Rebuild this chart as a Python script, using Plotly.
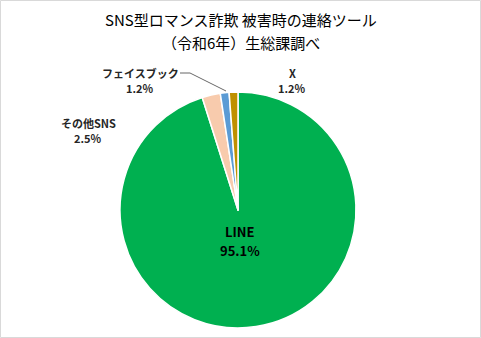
import plotly.graph_objects as go

labels = ["LINE", "その他SNS", "フェイスブック", "X"]
values = [95.1, 2.5, 1.2, 1.2]
colors = ["#00B050", "#F8CBAD", "#5B9BD5", "#BF9000"]
title_lines = ["SNS型ロマンス詐欺 被害時の連絡ツール", "（令和6年）生総課調べ"]

W, H = 481, 338
cx, cy, r = 238, 210, 118
FONT = "Noto Sans CJK JP"

fig = go.Figure(go.Pie(
    labels=labels, values=values, sort=False, direction="clockwise", rotation=0,
    marker=dict(colors=colors, line=dict(color="white", width=1.5)),
    textinfo="none", hoverinfo="label+percent", showlegend=False,
    domain=dict(x=[(cx - r) / W, (cx + r) / W], y=[(H - cy - r) / H, (H - cy + r) / H]),
))

ann_pos = {"LINE": (240, 232, 250), "その他SNS": (88, 123, 138), "フェイスブック": (140, 73, 88), "X": (292, 73, 88)}
anns = []
for lab, val in zip(labels, values):
    x, y1, y2 = ann_pos[lab]
    big = lab == "LINE"
    f = dict(size=13 if big else 11, color="black" if big else "#262626", family=FONT)
    for t, y in ((lab, y1), ("%.1f%%" % val, y2)):
        anns.append(dict(x=x / W, y=1 - y / H, xref="paper", yref="paper",
                         xanchor="center", yanchor="middle",
                         text="<b>%s</b>" % t, showarrow=False, font=f))
for t, y in zip(title_lines, [20, 43]):
    anns.append(dict(x=241 / W, y=1 - y / H, xref="paper", yref="paper",
                     xanchor="center", yanchor="middle",
                     text=t, showarrow=False,
                     font=dict(size=15, color="black", family=FONT)))

shapes = [
    dict(type="rect", xref="paper", yref="paper", x0=0.5 / W, y0=0.5 / H, x1=1 - 0.5 / W, y1=1 - 0.5 / H,
         line=dict(color="#D9D9D9", width=1)),
    dict(type="line", xref="paper", yref="paper", x0=180 / W, y0=1 - 73 / H, x1=190 / W, y1=1 - 73 / H,
         line=dict(color="#404040", width=0.8)),
    dict(type="line", xref="paper", yref="paper", x0=190 / W, y0=1 - 73 / H, x1=226 / W, y1=1 - 91 / H,
         line=dict(color="#404040", width=0.8)),
]

fig.update_layout(width=W, height=H, margin=dict(l=0, r=0, t=0, b=0),
                  paper_bgcolor="white", plot_bgcolor="white",
                  annotations=anns, shapes=shapes)
fig.write_html("out.html")
